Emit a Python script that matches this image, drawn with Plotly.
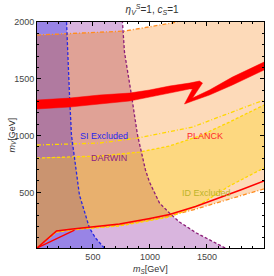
import numpy as np
import plotly.graph_objects as go

XMIN, XMAX, YMIN, YMAX = 10, 2000, 10, 2000

# ---- boundary data (GeV) ----
# SI excluded (current direct detection) : x as function of y
si_x = [600, 523, 470, 382, 339, 312, 295, 269]
si_y = [10, 98, 186, 477, 802, 1005, 1357, 2000]
# DARWIN projection
darwin_x = [1660, 1408, 1259, 1171, 1084, 996, 961, 926, 891, 838, 777, 759]
darwin_y = [10, 142, 239, 318, 406, 591, 697, 846, 1005, 1357, 1735, 2000]
# PLANCK region: upper and lower edges
planck_top_x = [10, 400, 777, 1000, 1241]
planck_top_y = [1885, 1905, 1920, 1958, 2000]
planck_lo_x = [10, 181, 409, 733, 1171, 1400, 1697, 2000]
planck_lo_y = [10, 155, 180, 212, 292, 352, 441, 530]
# ID excluded region
id_up_x = [10, 558, 908, 1171, 1434, 1697, 2000]
id_up_y = [802, 820, 855, 908, 996, 1119, 1269]
id_up2_x = [10, 558, 891, 1171, 1373, 1697, 2000]
id_up2_y = [917, 934, 978, 1031, 1075, 1198, 1313]
id_lo_x = [10, 181, 321, 409, 733, 1171, 1434, 1697, 2000]
id_lo_y = [10, 150, 168, 178, 204, 283, 389, 556, 715]
# relic density contours
relic_lo_x = [10, 181, 321, 409, 733, 1000, 1171, 1400, 1610, 1800, 2000]
relic_lo_y = [10, 160, 177, 186, 221, 270, 305, 375, 450, 522, 600]
relic_br_x = [10, 312, 339]
relic_br_y = [10, 151, 168]
relic_band_x = [10, 295, 558, 821, 996, 1171, 1346, 1434, 1461, 1373, 1522, 1723, 2000,
                2000, 1723, 1522, 1373, 1303, 1373, 1346, 1171, 996, 821, 558, 295, 10]
relic_band_y = [1313, 1330, 1357, 1374, 1401, 1436, 1462, 1480, 1462, 1330, 1401, 1515, 1647,
                1577, 1445, 1357, 1304, 1278, 1410, 1410, 1374, 1339, 1304, 1278, 1251, 1234]

labels = ["SI Excluded", "DARWIN", "PLANCK", "ID Excluded"]
label_x = [597, 645, 1487, 1496]
label_y = [996, 802, 996, 494]
label_col = ["rgb(40,40,235)", "rgb(140,30,130)", "rgb(255,40,40)", "rgb(190,180,40)"]


def left_region(bx, by):
    ys = np.linspace(YMIN, YMAX, 400)
    xs = np.interp(ys, by, bx)
    return [XMIN] + list(xs) + [XMIN], [YMIN] + list(ys) + [YMAX]


def band(lo_x, lo_y, hi_x, hi_y, bx=None, by=None):
    xs = np.linspace(XMIN, XMAX, 1500)
    lo = np.interp(xs, lo_x, lo_y)
    hi = np.interp(xs, hi_x, hi_y)
    if bx is None:
        return list(xs) + list(xs[::-1]), list(lo) + list(hi[::-1])
    klo = xs <= np.interp(lo, by, bx)
    khi = xs <= np.interp(hi, by, bx)
    n1 = len(xs) if klo.all() else int(np.argmin(klo))
    n2 = len(xs) if khi.all() else int(np.argmin(khi))
    ys = np.linspace(lo[n1 - 1], hi[n2 - 1], 300)
    xr = np.interp(ys, by, bx)
    X = list(xs[:n1]) + list(xr) + list(xs[:n2][::-1])
    Y = list(lo[:n1]) + list(ys) + list(hi[:n2][::-1])
    return X, Y


fig = go.Figure()


def fill(X, Y, col):
    fig.add_trace(go.Scatter(x=X, y=Y, fill="toself", fillcolor=col, mode="none",
                             hoverinfo="skip", showlegend=False))


fill(*left_region(darwin_x, darwin_y), "rgb(217,181,222)")
fill(*left_region(si_x, si_y), "rgb(152,132,230)")
fill(*band(planck_lo_x, planck_lo_y, planck_top_x, planck_top_y), "rgb(253,218,185)")
fill(*band(planck_lo_x, planck_lo_y, planck_top_x, planck_top_y, darwin_x, darwin_y), "rgb(224,162,150)")
fill(*band(planck_lo_x, planck_lo_y, planck_top_x, planck_top_y, si_x, si_y), "rgb(176,122,160)")
fill(*band(id_lo_x, id_lo_y, id_up_x, id_up_y), "rgb(253,216,128)")
fill(*band(id_lo_x, id_lo_y, id_up_x, id_up_y, darwin_x, darwin_y), "rgb(232,176,110)")
fill(*band(id_lo_x, id_lo_y, id_up_x, id_up_y, si_x, si_y), "rgb(202,148,112)")


def line(x, y, col, dash, w=1.3):
    fig.add_trace(go.Scatter(x=x, y=y, mode="lines", line=dict(color=col, width=w, dash=dash),
                             hoverinfo="skip", showlegend=False))


dashdot = "4px,2px,1px,2px"
dashed = "3px,2px"
line(planck_top_x, planck_top_y, "rgb(255,140,30)", dashdot)
line(planck_lo_x, planck_lo_y, "rgb(255,140,30)", dashdot)
line(id_up2_x, id_up2_y, "rgb(255,215,0)", dashdot)
line(id_up_x, id_up_y, "rgb(255,215,0)", dashed)
line(id_lo_x, id_lo_y, "rgb(255,215,0)", dashed)
line(si_x, si_y, "rgb(40,40,225)", dashed)
line(darwin_x, darwin_y, "rgb(140,30,120)", dashed)
line(relic_lo_x, relic_lo_y, "rgb(255,0,0)", "solid", 1.6)
line(relic_br_x, relic_br_y, "rgb(255,0,0)", "solid", 1.4)
fig.add_trace(go.Scatter(x=relic_band_x, y=relic_band_y, fill="toself", fillcolor="rgb(255,0,0)",
                         mode="lines", line=dict(color="rgb(255,0,0)", width=0.5),
                         hoverinfo="skip", showlegend=False))

for t, x, y, c in zip(labels, label_x, label_y, label_col):
    fig.add_annotation(x=x, y=y, text=t, showarrow=False,
                       font=dict(family="Liberation Sans", size=9, color=c))

fig.add_annotation(xref="paper", yref="paper", x=0.5, y=0, yanchor="top", yshift=-14,
                   text="<i>m</i><sub><i>S</i></sub>[GeV]", showarrow=False,
                   font=dict(family="Liberation Sans", size=9, color="#333"))
fig.add_annotation(xref="paper", yref="paper", x=0, y=0.5, xshift=-33, textangle=-90,
                   text="<i>m</i><sub><i>V</i></sub>[GeV]", showarrow=False,
                   font=dict(family="Liberation Sans", size=9, color="#333"))

axis = dict(showgrid=False, zeroline=False, showline=True, linecolor="black", linewidth=1,
            mirror="ticks", ticks="inside", ticklen=4, tickcolor="black", tickwidth=1,
            automargin=False,
            tickfont=dict(family="Liberation Sans", size=9, color="#444"),
            minor=dict(ticks="inside", ticklen=2, dtick=100, tickcolor="black", showgrid=False))
fig.update_xaxes(range=[XMIN, XMAX], tickvals=[500, 1000, 1500, 2000], **axis)
fig.update_yaxes(range=[YMIN, YMAX], tickvals=[500, 1000, 1500, 2000], **axis)

fig.update_layout(
    width=274, height=276,
    margin=dict(l=37, r=10, t=22, b=28, autoexpand=False),
    paper_bgcolor="white", plot_bgcolor="white",
    title=dict(text="<i>η</i><sub><i>V</i></sub><sup><i>S</i></sup>=1, <i>c</i><sub><i>S</i></sub>=1",
               x=0.555, xanchor="center", y=0.965, yanchor="middle", automargin=False,
               font=dict(family="Liberation Sans", size=10, color="#333")),
)

fig.write_html("out.html", config={"displayModeBar": False, "staticPlot": True},
               post_script="document.body.style.margin='0';document.body.style.overflow='hidden';")
